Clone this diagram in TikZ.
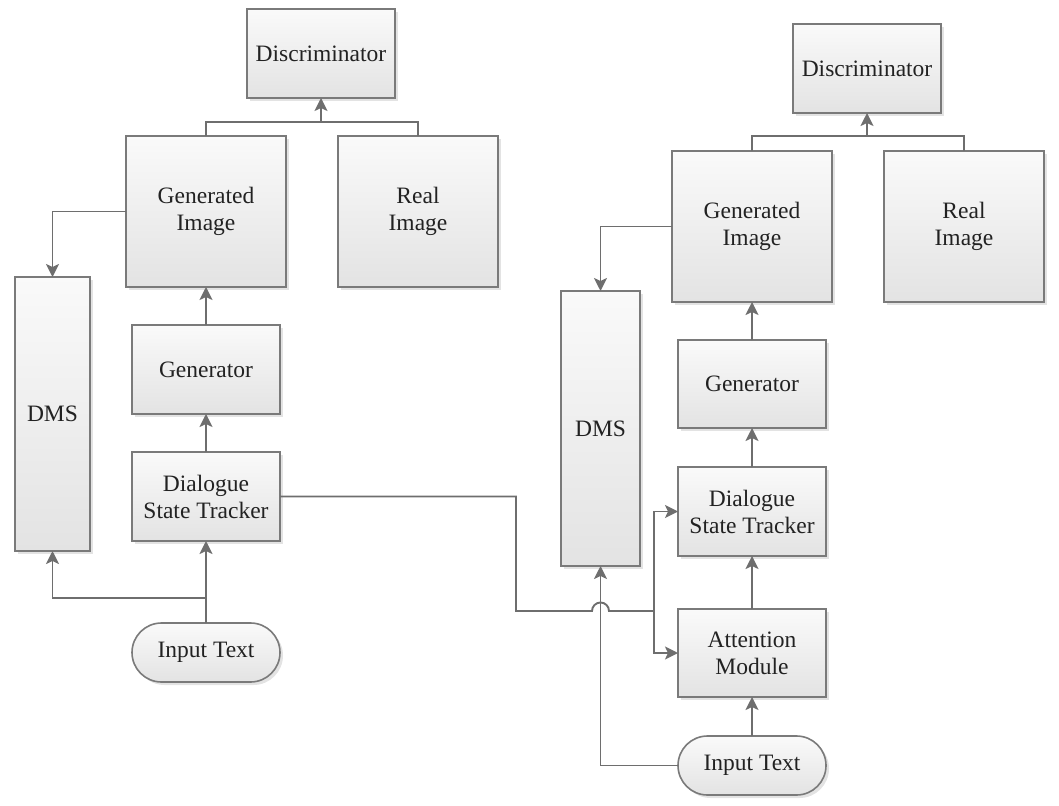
\documentclass[tikz,border=0pt]{standalone}
\usepackage{fontspec}
\setmainfont{Liberation Serif}
\usetikzlibrary{arrows.meta,shadows,shapes.misc}
\definecolor{edge}{HTML}{7A7A7A}
\definecolor{conn}{HTML}{6E6E6E}
\definecolor{txt}{HTML}{222222}
\tikzset{
  blk/.style={draw=edge, line width=1.6pt, top color=white!98!black, bottom color=white!89!black,
    drop shadow={shadow xshift=3pt, shadow yshift=-3pt, fill=black!18, opacity=0.6},
    text=txt, align=center, inner sep=0pt, outer sep=0pt,
    font=\fontsize{23.5}{27}\selectfont},
  term/.style={blk, rounded rectangle},
  ln/.style={draw=conn, line width=1.9pt},
  arr/.style={ln, -{Stealth[length=13pt,width=13pt,inset=3pt]}},
}
\begin{document}
\begin{tikzpicture}[x=1pt,y=-1pt]
\useasboundingbox (0,0) rectangle (1059,805);
% left diagram
\node[blk, minimum width=148pt, minimum height=89pt] (disL) at (321,53.5) {Discriminator};
\node[blk, minimum width=160pt, minimum height=151pt] (genimgL) at (206,211.5) {Generated\\Image};
\node[blk, minimum width=160pt, minimum height=151pt] (realL) at (418,211.5) {Real\\Image};
\node[blk, minimum width=75pt, minimum height=274pt] (dmsL) at (52.5,414) {DMS};
\node[blk, minimum width=148pt, minimum height=89pt] (genL) at (206,369.5) {Generator};
\node[blk, minimum width=148pt, minimum height=89pt] (dstL) at (206,496.5) {Dialogue\\State Tracker};
\node[term, minimum width=148pt, minimum height=59pt] (inL) at (206,652.5) {Input Text};
% right diagram
\node[blk, minimum width=148pt, minimum height=89pt] (disR) at (867,68.5) {Discriminator};
\node[blk, minimum width=160pt, minimum height=151pt] (genimgR) at (752,226.5) {Generated\\Image};
\node[blk, minimum width=160pt, minimum height=151pt] (realR) at (964,226.5) {Real\\Image};
\node[blk, minimum width=79pt, minimum height=275pt] (dmsR) at (600.5,428.5) {DMS};
\node[blk, minimum width=148pt, minimum height=88pt] (genR) at (752,384) {Generator};
\node[blk, minimum width=148pt, minimum height=89pt] (dstR) at (752,511.5) {Dialogue\\State Tracker};
\node[blk, minimum width=148pt, minimum height=88pt] (attR) at (752,653) {Attention\\Module};
\node[term, minimum width=148pt, minimum height=59pt] (inR) at (752,765.5) {Input Text};
% coordinates
\coordinate (jL) at (321,122);
\coordinate (jR) at (867,136);
\coordinate (bL) at (206,598);
\coordinate (c1) at (516,496.5);
\coordinate (c2) at (516,611);
\coordinate (h1) at (592,611);
\coordinate (c3) at (654,611);
% left connectors
\draw[ln] (genimgL.north) |- (jL) -| (realL.north);
\draw[arr] (jL) -- (disL.south);
\draw[arr] (genimgL.west) -| (dmsL.north);
\draw[arr] (genL.north) -- (genimgL.south);
\draw[arr] (dstL.north) -- (genL.south);
\draw[arr] (inL.north) -- (dstL.south);
\draw[arr] (bL) -| (dmsL.south);
% right connectors
\draw[ln] (genimgR.north) |- (jR) -| (realR.north);
\draw[arr] (jR) -- (disR.south);
\draw[arr] (genimgR.west) -| (dmsR.north);
\draw[arr] (genR.north) -- (genimgR.south);
\draw[arr] (dstR.north) -- (genR.south);
\draw[arr] (attR.north) -- (dstR.south);
\draw[arr] (inR.north) -- (attR.south);
\draw[arr] (inR.west) -| (dmsR.south);
% cross connector
\draw[ln] (dstL.east) -- (c1) -- (c2) -- (h1) arc[start angle=180, end angle=360, radius=8.5] -- (c3);
\draw[arr] (c3) |- (dstR.west);
\draw[arr] (c3) |- (attR.west);
\end{tikzpicture}
\end{document}
